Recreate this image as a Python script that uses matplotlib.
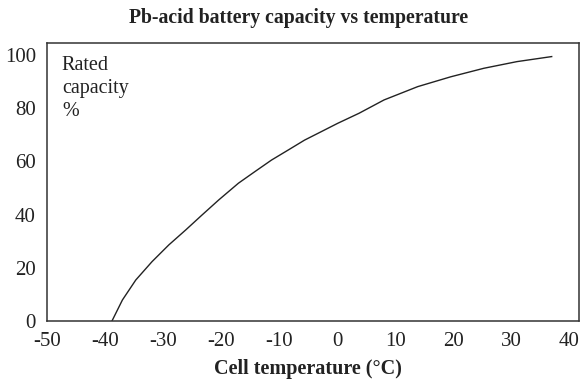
import matplotlib
matplotlib.use('Agg')
import matplotlib.pyplot as plt

plt.rcParams['font.family'] = ['Liberation Serif', 'DejaVu Serif']
plt.rcParams['axes.unicode_minus'] = False

temperature = [-38.8, -37.0, -34.7, -31.9, -29.0, -26.1, -23.3, -20.4, -17.0,
               -14.2, -11.3, -8.4, -5.6, -2.7, 0.1, 3.8, 8.1, 13.9, 19.6,
               25.3, 31.0, 37.0]
capacity = [0.0, 7.9, 15.4, 22.3, 28.6, 34.2, 39.8, 45.5, 51.8,
            56.1, 60.5, 64.3, 68.0, 71.2, 74.3, 78.1, 83.1, 88.1, 91.8,
            95.0, 97.5, 99.4]

x_ticks = [-50, -40, -30, -20, -10, 0, 10, 20, 30, 40]
y_ticks = [0, 20, 40, 60, 80, 100]

fig = plt.figure(figsize=(5.86, 3.83), dpi=100)
ax = fig.add_axes([0.0802, 0.1619, 0.9078, 0.7258])

ax.plot(temperature, capacity, color='#222222', linewidth=1.0,
        solid_joinstyle='round')

ax.set_xlim(-49.5, 41.7)
ax.set_ylim(0, 104.5)
ax.set_xticks(x_ticks)
ax.set_yticks(y_ticks)
ax.tick_params(axis='both', length=0, labelsize=15, colors='#222222')
ax.tick_params(axis='x', pad=8)
ax.tick_params(axis='y', pad=8)
for s in ax.spines.values():
    s.set_linewidth(1.1)
    s.set_color('#333333')

ax.text(0.028, 0.955, 'Rated\ncapacity\n%', transform=ax.transAxes,
        ha='left', va='top', fontsize=14.5, color='#222222', linespacing=1.3)

fig.text(0.510, 0.952, 'Pb-acid battery capacity vs temperature',
         ha='center', va='center', fontsize=14.2, fontweight='bold', color='#222222')
fig.text(0.525, 0.036, 'Cell temperature (°C)',
         ha='center', va='center', fontsize=14.5, fontweight='bold', color='#222222')

fig.savefig('out.png', dpi=100)
